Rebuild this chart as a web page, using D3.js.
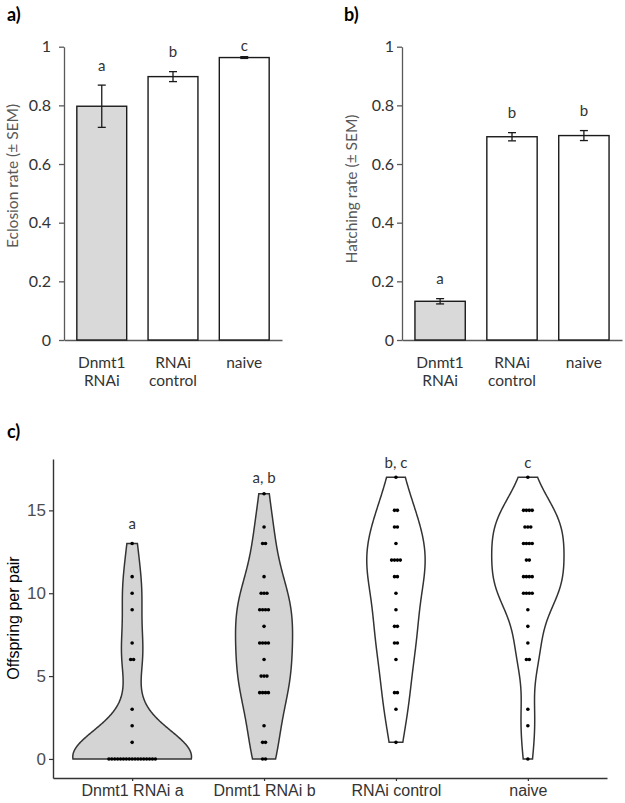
<!DOCTYPE html>
<html>
<head>
<meta charset="utf-8">
<script src="https://d3js.org/d3.v7.min.js"></script>
<style>
  body { margin: 0; background: #fff; }
</style>
</head>
<body>
<div id="chart"></div>
<script>
// panels a) and b): bar charts
const barGroups = [["Dnmt1", "RNAi"], ["RNAi", "control"], ["naive"]];
const barFills = ["#d9d9d9", "#ffffff", "#ffffff"];
const barTicks = [0, 0.2, 0.4, 0.6, 0.8, 1];

const eclosionMean = [0.797, 0.898, 0.963];
const eclosionSem = [0.072, 0.017, 0.003];
const eclosionLetters = ["a", "b", "c"];

const hatchingMean = [0.132, 0.693, 0.697];
const hatchingSem = [0.009, 0.014, 0.017];
const hatchingLetters = ["a", "b", "b"];

// panel c): offspring per pair, one entry per pair
const violinGroups = ["Dnmt1 RNAi a", "Dnmt1 RNAi b", "RNAi control", "naive"];
const violinFills = ["#d4d4d4", "#d4d4d4", "#ffffff", "#ffffff"];
const violinTicks = [0, 5, 10, 15];
const violinLetters = ["a", "a, b", "b, c", "c"];
const violinLetterAt = [13.9, 16.65, 17.55, 17.55];

const offspringRnaiA = [
  0, 0, 0, 0, 0, 0, 0, 0, 0, 0, 0, 0, 0, 0, 0, 0, 0,
  1, 2, 3, 6, 6, 7, 9, 10, 11, 13,
];
const offspringRnaiB = [
  0, 0, 1, 1, 2, 4, 4, 4, 4, 5, 5, 5, 6, 7, 7, 7, 7,
  8, 9, 9, 9, 9, 10, 10, 10, 11, 13, 13, 14, 16,
];
const offspringControl = [
  1, 3, 4, 4, 6, 7, 7, 8, 8, 9, 10, 11, 11,
  12, 12, 12, 12, 13, 14, 14, 15, 15, 17,
];
const offspringNaive = [
  0, 2, 3, 6, 6, 7, 8, 9, 10, 10, 10, 10, 11, 11, 11, 11,
  12, 12, 13, 13, 13, 13, 14, 14, 14, 15, 15, 15, 15, 17,
];
const offspring = [offspringRnaiA, offspringRnaiB, offspringControl, offspringNaive];

const width = 625;
const height = 803;
const excelFont = "Lato, 'Open Sans', sans-serif";
const rFont = "'Liberation Sans', Arial, sans-serif";

const svg = d3
  .select("#chart")
  .append("svg")
  .attr("width", width)
  .attr("height", height)
  .attr("viewBox", `0 0 ${width} ${height}`);

svg.append("rect").attr("width", width).attr("height", height).attr("fill", "#fff");

function barPanel(opts) {
  const { left, right, tag, tagX, title, titleX, titleY, means, sems, letters, tickGap } = opts;
  const g = svg.append("g");
  const x = d3
    .scaleBand()
    .domain(d3.range(barGroups.length))
    .range([left, right])
    .paddingInner(0.3)
    .paddingOuter(0.18);
  const y = d3.scaleLinear().domain([0, 1]).range([340, 46.7]);

  g.append("g")
    .attr("transform", `translate(${left},0)`)
    .call(
      d3.axisLeft(y)
        .tickValues(barTicks)
        .tickSize(5)
        .tickSizeOuter(0)
        .tickPadding(tickGap)
        .tickFormat((d) => String(d)),
    )
    .call((axis) => {
      axis.select(".domain").attr("stroke", "#595959").attr("stroke-width", 1.3);
      axis.selectAll(".tick line").attr("stroke", "#595959").attr("stroke-width", 1.3);
      axis.selectAll("text")
        .attr("font-family", excelFont)
        .attr("font-size", 16)
        .attr("fill", "#333");
    });

  g.append("g")
    .attr("transform", `translate(0,${y(0)})`)
    .call(d3.axisBottom(x).tickSize(0).tickSizeOuter(0).tickFormat(""))
    .call((axis) => axis.select(".domain").attr("stroke", "#595959").attr("stroke-width", 1.3));

  g.selectAll(".bar")
    .data(means)
    .join("rect")
    .attr("x", (d, i) => x(i))
    .attr("y", (d) => y(d))
    .attr("width", x.bandwidth())
    .attr("height", (d) => y(0) - y(d))
    .attr("fill", (d, i) => barFills[i])
    .attr("stroke", "#1a1a1a")
    .attr("stroke-width", 1.4);

  const err = g
    .selectAll(".err")
    .data(means)
    .join("g")
    .attr("stroke", "#1a1a1a")
    .attr("stroke-width", 1.3);
  const cx = (i) => x(i) + x.bandwidth() / 2;
  err.append("line")
    .attr("x1", (d, i) => cx(i))
    .attr("x2", (d, i) => cx(i))
    .attr("y1", (d, i) => y(d - sems[i]))
    .attr("y2", (d, i) => y(d + sems[i]));
  [-1, 1].forEach((s) => {
    err.append("line")
      .attr("x1", (d, i) => cx(i) - 4)
      .attr("x2", (d, i) => cx(i) + 4)
      .attr("y1", (d, i) => y(d + s * sems[i]))
      .attr("y2", (d, i) => y(d + s * sems[i]));
  });

  g.selectAll(".letter")
    .data(means)
    .join("text")
    .attr("x", (d, i) => cx(i))
    .attr("y", (d, i) => Math.max(y(d + sems[i]) - 14.5, y(1) + 4))
    .attr("text-anchor", "middle")
    .attr("font-family", excelFont)
    .attr("font-size", 15)
    .attr("fill", "#333")
    .text((d, i) => letters[i]);

  g.selectAll(".cat")
    .data(barGroups)
    .join("text")
    .attr("x", (d, i) => cx(i))
    .attr("text-anchor", "middle")
    .attr("font-family", excelFont)
    .attr("font-size", 15.5)
    .attr("fill", "#333")
    .selectAll("tspan")
    .data((d) => d)
    .join("tspan")
    .attr("x", function () { return this.parentNode.getAttribute("x"); })
    .attr("y", (d, j) => 368 + j * 18)
    .text((d) => d);

  svg.append("text")
    .attr("transform", `translate(${titleX},${titleY}) rotate(-90)`)
    .attr("text-anchor", "middle")
    .attr("font-family", excelFont)
    .attr("font-size", 15.5)
    .attr("fill", "#595959")
    .text(title);

  svg.append("text")
    .attr("x", tagX)
    .attr("y", 21)
    .attr("font-family", excelFont)
    .attr("font-weight", 700)
    .attr("font-size", 18)
    .attr("fill", "#000")
    .text(tag);
}

barPanel({
  left: 64, right: 282, tag: "a)", tagX: 7,
  title: "Eclosion rate (± SEM)", titleX: 18, titleY: 176,
  means: eclosionMean, sems: eclosionSem, letters: eclosionLetters, tickGap: 8,
});
barPanel({
  left: 402, right: 622, tag: "b)", tagX: 344,
  title: "Hatching rate (± SEM)", titleX: 357, titleY: 189,
  means: hatchingMean, sems: hatchingSem, letters: hatchingLetters, tickGap: 3,
});

// panel c): violins with centred dot stacks
const xc = d3.scalePoint().domain(violinGroups).range([53, 607]).padding(0.6);
const yc = d3.scaleLinear().domain([-1.15, 18.1]).range([778, 459]);

function bwNrd0(v) {
  const sd = d3.deviation(v);
  const iqr = (d3.quantile(v, 0.75) - d3.quantile(v, 0.25)) / 1.34;
  const lo = Math.min(sd, iqr) || sd || 1;
  return 0.9 * lo * Math.pow(v.length, -0.2);
}

function density(v) {
  const bw = bwNrd0(v);
  const [lo, hi] = d3.extent(v);
  const n = 256;
  return d3.range(n).map((i) => {
    const t = lo + ((hi - lo) * i) / (n - 1);
    const d = d3.sum(v, (x) => Math.exp(-0.5 * ((t - x) / bw) ** 2)) /
      (v.length * bw * Math.sqrt(2 * Math.PI));
    return { v: t, d };
  });
}

const densities = offspring.map(density);
const maxDensity = d3.max(densities, (ds) => d3.max(ds, (p) => p.d));
const halfWidth = d3.scaleLinear().domain([0, maxDensity]).range([0, 0.45 * xc.step()]);

const gc = svg.append("g");

violinGroups.forEach((name, i) => {
  const cx = xc(name);
  const area = d3
    .area()
    .y((p) => yc(p.v))
    .x0((p) => cx - halfWidth(p.d))
    .x1((p) => cx + halfWidth(p.d));
  gc.append("path")
    .attr("d", area(densities[i]))
    .attr("fill", violinFills[i])
    .attr("stroke", "#333")
    .attr("stroke-width", 1.5);

  const counts = d3.rollups(offspring[i], (v) => v.length, (d) => d);
  const dotStep = 2.9;
  const dots = counts.flatMap(([value, k]) =>
    d3.range(k).map((j) => ({ value, off: (j - (k - 1) / 2) * dotStep })),
  );
  gc.selectAll(null)
    .data(dots)
    .join("circle")
    .attr("cx", (d) => cx + d.off)
    .attr("cy", (d) => yc(d.value))
    .attr("r", 1.8)
    .attr("fill", "#000");

  gc.append("text")
    .attr("x", cx)
    .attr("y", yc(violinLetterAt[i]))
    .attr("text-anchor", "middle")
    .attr("font-family", excelFont)
    .attr("font-size", 15)
    .attr("fill", "#333")
    .text(violinLetters[i]);
});

gc.append("g")
  .attr("transform", "translate(53,0)")
  .call(d3.axisLeft(yc).tickValues(violinTicks).tickSize(4).tickSizeOuter(0).tickPadding(3))
  .call((axis) => {
    axis.select(".domain").attr("stroke", "#333").attr("stroke-width", 1.4);
    axis.selectAll(".tick line").attr("stroke", "#333").attr("stroke-width", 1.2);
    axis.selectAll("text")
      .attr("font-family", rFont)
      .attr("font-size", 17)
      .attr("fill", "#4d4d4d");
  });

gc.append("g")
  .attr("transform", "translate(0,778)")
  .call(d3.axisBottom(xc).tickSize(3).tickSizeOuter(0).tickPadding(4))
  .call((axis) => {
    axis.select(".domain").attr("stroke", "#333").attr("stroke-width", 1.4);
    axis.selectAll(".tick line").attr("stroke", "#333").attr("stroke-width", 1.2);
    axis.selectAll("text")
      .attr("font-family", rFont)
      .attr("font-size", 16)
      .attr("fill", "#333");
  });

svg.append("text")
  .attr("transform", "translate(19,618) rotate(-90)")
  .attr("text-anchor", "middle")
  .attr("font-family", rFont)
  .attr("font-size", 16)
  .attr("fill", "#000")
  .text("Offspring per pair");

svg.append("text")
  .attr("x", 7)
  .attr("y", 438)
  .attr("font-family", excelFont)
  .attr("font-weight", 700)
  .attr("font-size", 18)
  .attr("fill", "#000")
  .text("c)");
</script>
</body>
</html>
